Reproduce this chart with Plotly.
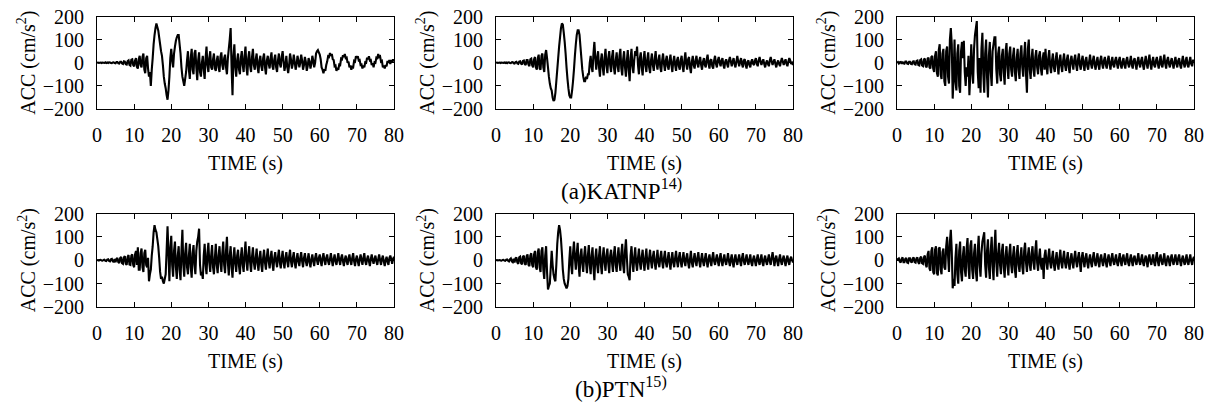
"""Acceleration records: KATNP and PTN, three components each
"""
import plotly.graph_objects as go

DT = 0.25  # sampling step of the digitised records (s)

# (a) KATNP, three components, cm/s^2 every 0.25 s from 0 to 80 s (one line = 2.5 s)
katnp_1 = [0, 1, -1, 0, 1, -1, 1, 0, -1, 2,
           -1, 1, -1, 2, 1, -1, -2, 1, 2, -1,
           -2, 3, 3, -2, -3, 4, 4, -3, -5, 6,
           5, -6, -8, 7, 10, -9, -12, 13, 15, -10,
           -15, 10, 20, -18, -25, 15, 30, -10, -20, 25,
           40, -30, -45, 20, 30, -25, -60, -40, -100, -30,
           20, 80, 120, 150, 170, 155, 140, 110, 80, 50,
           30, -10, -60, -90, -110, -140, -160, -120, -60, 20,
           60, 10, -20, 40, 70, 95, 110, 120, 120, 80,
           40, -20, -60, -80, -100, -70, -40, 10, 50, -30,
           -70, 20, 60, -30, -50, 40, 55, -20, -75, 10,
           45, -40, -60, 0, 30, -30, -70, 20, 70, -10,
           -40, 20, 50, -20, -30, 15, 40, -25, -35, 10,
           30, -20, -40, 25, 45, -10, -30, 20, 35, -20,
           -50, 20, 60, 100, 150, -20, -140, 30, 80, -20,
           -60, 10, 40, -30, -50, 20, 50, -10, -40, 30,
           70, -20, -55, 20, 50, -15, -40, 25, 60, -10,
           -30, 15, 40, -20, -45, 10, 30, -15, -35, 20,
           40, -20, -50, 10, 30, -5, -25, 20, 45, -15,
           -30, 15, 35, -20, -40, 10, 40, -5, -20, 25,
           50, 5, -35, -10, 30, -20, -45, -10, 40, 15,
           -25, -5, 35, 5, -30, -10, 30, 10, -20, 0,
           35, 10, -30, -10, 25, 5, -35, -15, 20, 5,
           -25, -5, 30, 10, -20, 0, 40, 50, 55, 45,
           35, 15, -20, -30, -45, -28, -35, -10, 5, 28,
           25, 42, 30, 38, 15, 12, -15, -12, -35, -22,
           -30, -8, -10, 18, 15, 32, 25, 38, 20, 22,
           0, 5, -20, -12, -30, -18, -20, 8, 5, 28,
           20, 28, 10, 12, -10, -8, -25, -12, -20, 2,
           0, 22, 15, 28, 10, 12, -10, -2, -20, 2,
           0, 22, 20, 38, 25, 28, 5, 8, -20, -12,
           -25, -10, -15, 8, 0, 12, -5, 12, 5, 15,
           5]
katnp_2 = [0, 1, -1, 0, 1, -1, 1, 0, -1, 1,
           -1, 1, -2, 1, 2, -1, -2, 2, 3, -2,
           -3, 3, 4, -3, -5, 5, 6, -4, -8, 8,
           10, -6, -10, 12, 12, -8, -15, 15, 18, -12,
           -20, 15, 25, -20, -30, 20, 35, -25, -30, 30,
           40, -20, -40, 35, 55, 20, -20, -60, -90, -110,
           -120, -150, -165, -160, -130, -80, -30, 20, 70, 110,
           150, 170, 165, 130, 90, 40, -20, -70, -110, -140,
           -150, -150, -120, -80, -30, 30, 80, 120, 140, 140,
           120, 70, 20, -30, -60, -80, -80, -60, -70, -50,
           -50, 0, 30, -20, -40, 40, 90, 20, -30, 20,
           50, -20, -60, 10, 40, -20, -55, 20, 60, -10,
           -45, 20, 50, -10, -40, 25, 55, -20, -50, 10,
           45, -15, -40, 30, 60, -25, -55, 15, 50, -20,
           -60, 10, 55, -30, -80, 20, 60, -15, -45, 15,
           50, 30, 70, -10, -50, 20, 45, -20, -55, 15,
           50, -10, -40, 15, 45, -20, -45, 10, 40, -10,
           -35, 15, 50, -5, -30, 10, 35, -20, -40, 10,
           40, -5, -35, 10, 30, -15, -30, 10, 35, -10,
           -40, 5, 30, -10, -35, 10, 25, -15, -30, 10,
           30, -15, -40, 10, 45, -5, -30, 15, 25, -20,
           -45, 5, 30, -10, -25, 10, 30, -5, -20, 10,
           25, -10, -30, 5, 20, -10, -20, 15, 35, -5,
           -25, 10, 15, -15, -25, 10, 30, -5, -20, 10,
           25, 0, -15, 10, 20, -10, -25, 5, 15, -5,
           -20, 10, 25, 5, -15, 5, 20, -5, -20, 5,
           30, 5, -15, 5, 20, -5, -20, 10, 15, -10,
           -25, 5, 10, -10, -20, 5, 15, -5, -10, 10,
           20, -5, -15, 10, 25, 5, -10, 5, 15, -5,
           -20, 0, 10, -5, -15, 10, 25, 5, -10, 5,
           15, -5, -20, 0, 10, -5, -15, 5, 20, 5,
           -10, 5, 15, -5, -15, 5, 20, 10, -5, 0,
           -10]
katnp_3 = [0, 3, -3, 2, 3, -4, 4, -3, -4, 5,
           5, -4, -5, 4, 4, -5, -6, 5, 6, -6,
           -8, 8, 10, -10, -12, 12, 15, -12, -15, 14,
           18, -16, -20, 18, 22, -20, -25, 25, 30, -25,
           -40, 30, 50, -45, -60, 55, 80, -50, -70, 40,
           60, -80, -100, 50, 70, -60, -90, 100, 150, 80,
           -155, -60, 100, -80, -120, 40, 80, -100, -130, 50,
           90, 20, 95, -40, -100, -20, -60, 30, -140, -50,
           80, -30, -90, 60, 120, 150, 180, -40, -110, 20,
           -130, 60, 130, -50, -130, 40, 100, -60, -150, 30,
           90, -40, -100, 50, 80, 110, 110, -30, -90, 40,
           70, -50, -80, 30, 60, -40, -95, 50, 85, -20,
           -70, 40, 70, -30, -60, 30, 65, -40, -80, 20,
           60, -30, -70, 40, 75, -20, -60, 30, 90, -50,
           -130, 60, 100, -30, -70, 20, 60, -30, -60, 25,
           55, -20, -50, 30, 50, -25, -55, 20, 45, -30,
           60, -10, -50, 20, 55, -15, -45, 10, 40, -20,
           -40, 15, 45, -10, -50, 10, 35, -15, -40, 10,
           40, -10, -35, 15, 35, -20, -45, 10, 30, -5,
           -30, 15, 35, -10, -35, 15, 40, -10, -30, 10,
           30, -10, -35, 10, 25, -15, -30, 5, 35, -5,
           -25, 10, 30, -10, -30, 5, 25, -10, -30, 10,
           30, -5, -25, 10, 25, -10, -25, 10, 30, -5,
           -30, 5, 25, -10, -20, 10, 25, -5, -25, 10,
           25, -10, -25, 5, 20, -10, -25, 10, 25, -5,
           -20, 5, 30, -10, -25, 10, 20, -5, -30, 5,
           25, -5, -20, 10, 25, -10, -30, 5, 30, -5,
           -25, 10, 35, -5, -30, 5, 25, -10, -20, 10,
           25, -5, -25, 5, 30, -10, -20, 10, 35, -5,
           -25, 10, 25, -5, -20, 5, 20, -5, -25, 5,
           25, -5, -20, 10, 20, -10, -25, 5, 30, -5,
           -20, 10, 25, -10, -20, 5, 25, -5, -15, 10,
           10]

# (b) PTN, three components
ptn_1 = [0, 1, -1, 1, 2, -1, -2, 1, 2, -2,
         -3, 3, 4, -3, -5, 4, 6, -5, -6, 5,
         -8, 6, 10, -8, -12, 10, 14, -12, -15, 12,
         18, -15, -20, 15, 22, -18, -20, 20, 25, -20,
         -30, 25, 40, -20, 55, -40, -40, 30, 50, -30,
         -50, 30, 45, -20, -30, 10, -90, -60, -40, 20,
         60, 120, 150, 130, 120, 90, 60, 10, -50, -80,
         -70, -90, -100, -80, -60, 40, 145, 30, -90, 50,
         105, -20, -70, 40, 80, -30, -80, 20, 60, -40,
         -85, 40, 130, -20, -70, 30, 75, -30, -60, 20,
         70, -30, -75, 30, 65, -20, -60, 40, 80, 100,
         135, -20, -65, -50, -80, 20, 70, -20, -60, 30,
         75, -10, -50, 20, 65, -30, -60, 10, 70, -20,
         -55, 20, 60, -10, -50, 30, 80, -20, -55, 40,
         100, -10, -65, 20, 60, -30, -75, 10, 55, -15,
         -50, 20, 45, -25, -60, 15, 55, -20, -50, 25,
         80, -5, -45, 20, 60, -10, -50, 15, 55, -10,
         -40, 10, 50, -15, -45, 10, 40, -20, -50, 10,
         45, -10, -40, 15, 50, -5, -35, 10, 40, -15,
         -45, 10, 35, -5, -30, 15, 45, -10, -35, 10,
         40, -10, -35, 10, 35, -5, -30, 15, 45, -5,
         -30, 10, 35, -10, -35, 5, 30, -5, -25, 10,
         35, -5, -30, 10, 30, -5, -25, 5, 30, -10,
         -30, 5, 25, -5, -25, 10, 30, 0, -20, 10,
         25, -5, -25, 10, 30, 0, -20, 10, 25, -5,
         -20, 5, 30, 0, -25, 5, 25, -5, -20, 5,
         30, 0, -20, 10, 25, -5, -25, 5, 20, -5,
         -20, 10, 25, -5, -20, 10, 30, -5, -25, 5,
         20, -5, -25, 5, 25, 0, -20, 10, 30, -5,
         -20, 5, 20, -5, -25, 5, 25, 0, -15, 5,
         20, -5, -20, 5, 25, 0, -20, 5, 20, -5,
         -25, 0, 15, -5, -20, 10, 20, 5, -15, 5,
         15]
ptn_2 = [0, 1, -1, 0, 1, -1, -2, 1, 2, -1,
         -2, 2, 3, -2, -5, 4, 8, -5, -8, 6,
         -10, 8, 12, -10, -15, 12, 15, -12, -18, 15,
         20, -15, -20, 18, 25, -20, -25, 20, 30, -20,
         -30, 25, 40, -30, -40, 35, 50, -30, -50, 40,
         55, -40, -80, 20, 60, -50, -125, -110, -100, -30,
         40, -20, -60, -80, -90, -20, 70, 120, 150, 130,
         90, 30, -40, -80, -100, -110, -120, -110, -80, 0,
         60, -20, -60, 30, 80, 10, -40, 30, 75, -20,
         -70, 20, 50, -15, -50, 20, 60, -10, -55, 20,
         65, -20, -60, 20, 55, -30, -85, 10, 50, -20,
         -55, 20, 60, -20, -60, 15, 55, -10, -45, 20,
         50, -15, -55, 20, 45, -10, -50, 25, 60, -20,
         -50, 15, 55, -10, -45, 30, 70, -20, -55, 40,
         90, 10, -60, -70, -85, 20, 60, -10, -50, 15,
         55, -15, -45, 10, 50, -10, -40, 15, 45, -10,
         -45, 10, 50, -10, -40, 10, 45, -5, -35, 15,
         40, -10, -40, 5, 45, -10, -30, 10, 40, -5,
         -35, 10, 40, -10, -30, 5, 35, -10, -40, 5,
         35, -10, -30, 10, 40, -5, -30, 10, 35, -5,
         -30, 5, 35, -5, -25, 10, 30, -10, -35, 5,
         40, -10, -30, 5, 30, -5, -25, 10, 35, -5,
         -30, 5, 30, -5, -25, 5, 30, -5, -30, 5,
         25, -5, -25, 10, 35, -5, -20, 5, 25, -5,
         -25, 10, 30, -5, -25, 5, 25, -5, -20, 5,
         30, -5, -25, 5, 25, -10, -30, 5, 25, -5,
         -20, 5, 25, -5, -25, 10, 30, -5, -20, 5,
         25, -5, -20, 5, 25, -10, -25, 5, 20, -5,
         -25, 5, 25, -5, -20, 5, 25, -10, -25, 5,
         20, -5, -20, 5, 25, -5, -20, 10, 35, 5,
         -25, 5, 20, -5, -25, 5, 25, -5, -20, 5,
         20, -5, -25, 5, 20, -5, -20, 5, 15, 0,
         -10]
ptn_3 = [0, 5, 8, -5, -10, 6, 12, -8, -8, 6,
         10, -10, -12, 8, 8, -6, -10, 8, 12, -8,
         -10, 8, 12, -10, -15, 10, 15, -12, -15, 12,
         20, -20, -30, 25, 40, -35, -45, 40, 55, -50,
         -60, 45, 60, -55, -65, 50, 55, -40, -60, 35,
         50, -30, -40, 60, 100, 20, -50, 80, 130, 40,
         -120, -80, -110, 10, 70, -60, -100, 40, 80, -50,
         -90, 20, 60, -40, -70, 50, 95, -30, -80, 60,
         85, -40, -80, 30, 70, -50, -90, 40, 105, -20,
         -70, 30, 80, 100, 120, -20, -75, 40, 90, -30,
         -80, 40, 100, -20, -85, 50, 130, -10, -70, 30,
         75, -20, -60, 40, 70, -30, -75, 20, 60, -20,
         -65, 30, 70, -20, -55, 20, 60, -40, -75, 30,
         65, -20, -50, 15, 55, -30, -60, 40, 75, -10,
         -50, 20, 55, -20, -45, 30, 60, -10, -40, 40,
         85, -10, -45, 10, 50, -20, -40, 10, -80, 20,
         45, -10, -40, 15, 50, -10, -35, 10, 40, -20,
         -45, 5, 35, -15, -40, 10, 45, -10, -35, 10,
         40, -10, -35, 5, 35, -15, -40, 5, 30, -10,
         -35, 10, 40, -5, -30, 10, 35, -10, -50, 10,
         35, -5, -30, 10, 30, -10, -35, 5, 25, -10,
         -30, 10, 35, -5, -25, 5, 30, -10, -30, 10,
         25, -5, -25, 5, 30, -10, -30, 5, 25, -5,
         -25, 10, 30, -5, -20, 5, 25, -10, -25, 5,
         30, -5, -25, 10, 25, -5, -20, 10, 30, -10,
         -25, 5, 25, -5, -25, 10, 20, -5, -20, 5,
         30, -5, -20, 5, 25, -10, -25, 5, 20, -5,
         -30, 10, 25, -5, -20, 5, 25, -10, -25, 10,
         35, -5, -25, 10, 25, -5, -20, 5, 30, -10,
         -25, 5, 20, -5, -25, 10, 25, -5, -20, 5,
         25, -5, -20, 10, 25, -5, -25, 5, 20, -5,
         -20, 5, 25, -10, -20, 5, 25, -5, -20, 5,
         15]

records = [katnp_1, katnp_2, katnp_3, ptn_1, ptn_2, ptn_3]
captions = ["(a)KATNP<sup>14)</sup>", "(b)PTN<sup>15)</sup>"]
y_ticks = [-200, -100, 0, 100, 200]
x_ticks = [0, 10, 20, 30, 40, 50, 60, 70, 80]

W, H = 1215, 405
FONT = "Liberation Serif, Times New Roman, DejaVu Serif, serif"

# panel boxes in pixels (left, right) and (top, bottom)
cols_px = [(97, 394), (496, 793), (897, 1194)]
rows_px = [(16.5, 109), (213.5, 307)]


def px(x, y):
    return x / W, 1 - y / H


fig = go.Figure()
axis_style = dict(showline=True, linecolor="black", linewidth=1, mirror="allticks",
                  ticks="inside", ticklen=5, tickcolor="black", showgrid=False,
                  zeroline=False, automargin=False,
                  tickfont=dict(family=FONT, size=20, color="black"),
                  ticklabelstandoff=8)
label_font = dict(family=FONT, size=20, color="black")

for i, acc in enumerate(records):
    r, c = divmod(i, 3)
    n = i + 1
    t = [k * DT for k in range(len(acc))]
    # thick stroke so the dense record reads as a solid trace, as in the printed figure
    fig.add_trace(go.Scatter(x=t, y=acc, mode="lines",
                             line=dict(color="black", width=2.1, simplify=False),
                             xaxis=f"x{n}", yaxis=f"y{n}", showlegend=False))
    x0, x1 = cols_px[c]
    y0, y1 = rows_px[r]
    fig.layout[f"xaxis{n}"] = dict(axis_style, domain=[x0 / W, x1 / W], range=[0, 80],
                                   tickvals=x_ticks, anchor=f"y{n}")
    fig.layout[f"yaxis{n}"] = dict(axis_style, domain=[1 - y1 / H, 1 - y0 / H],
                                   range=[-200, 200], tickvals=y_ticks, anchor=f"x{n}")
    # axis titles
    ax, ay = px(x0 - 70, (y0 + y1) / 2)
    fig.add_annotation(text="ACC (cm/s<sup>2</sup>)", textangle=-90, xref="paper", yref="paper",
                       x=ax, y=ay, xanchor="center", yanchor="middle", showarrow=False,
                       font=label_font)
    tx, ty = px((x0 + x1) / 2, y1 + 54)
    fig.add_annotation(text="TIME (s)", xref="paper", yref="paper", x=tx, y=ty,
                       xanchor="center", yanchor="middle", showarrow=False, font=label_font)

for r, cap in enumerate(captions):
    cx, cy = px(621, rows_px[r][1] + 80)
    fig.add_annotation(text=cap, xref="paper", yref="paper", x=cx, y=cy,
                       xanchor="center", yanchor="middle", showarrow=False,
                       font=dict(family=FONT, size=23, color="black"))

fig.update_layout(template="none", width=W, height=H, margin=dict(l=0, r=0, t=0, b=0),
                  paper_bgcolor="white", plot_bgcolor="white",
                  font=dict(family=FONT, color="black"))
# the page has the browser's default 8px body margin; drop it so the figure sits at 0,0
fig.write_html("out.html", config={"displayModeBar": False},
               post_script="document.body.style.margin = '0';")
